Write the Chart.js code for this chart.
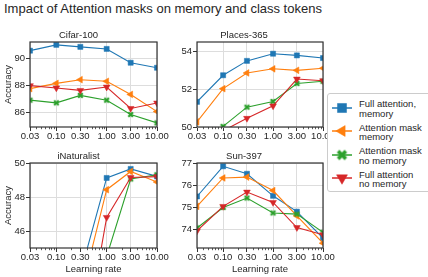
<!DOCTYPE html>
<html>
<head>
<meta charset="utf-8">
<script src="https://cdn.jsdelivr.net/npm/chart.js@4"></script>
<style>
  body { margin: 0; width: 428px; height: 277px; overflow: hidden; background: #fff; position: relative;
         font-family: "Liberation Sans", Arial, sans-serif; color: #262626; }
  canvas.panel { position: absolute; }
  #title { position: absolute; left: 4px; top: 1px; font-size: 13px; line-height: 15px; white-space: nowrap; }
  #legend { position: absolute; left: 327px; top: 93px; width: 110px; height: 99px; box-sizing: border-box;
            border: 1px solid #cccccc; border-radius: 3px; background: #fff; z-index: 2; }
  .lg-icon { position: absolute; z-index: 3; }
  .lg-text { position: absolute; z-index: 3; font-size: 9.5px; line-height: 9.8px; white-space: nowrap; }
</style>
</head>
<body>
<div id="title">Impact of Attention masks on memory and class tokens</div>
<canvas class="panel" id="cifar" width="171" height="121" style="left:0px;top:24px"></canvas>
<canvas class="panel" id="places" width="172" height="121" style="left:165px;top:24px"></canvas>
<canvas class="panel" id="inat" width="171" height="136" style="left:0px;top:141px"></canvas>
<canvas class="panel" id="sun" width="172" height="136" style="left:165px;top:141px"></canvas>
<div id="legend"></div>
<script>
// x axis: learning rates (log scale)
const learningRates = [0.03, 0.1, 0.3, 1, 3, 10];
const xTickLabels = ['0.03', '0.10', '0.30', '1.00', '3.00', '10.00'];
const xMinorTicks = [0.04, 0.05, 0.06, 0.07, 0.08, 0.09, 0.2, 0.4, 0.5, 0.6, 0.7, 0.8, 0.9, 2, 4, 5, 6, 7, 8, 9];

const legendLines = [
  ['Full attention,', 'memory'],
  ['Attention mask', 'memory'],
  ['Attention mask', 'no memory'],
  ['Full attention', 'no memory']
];

// Cifar-100
const cifarFullMem   = [90.56, 90.99, 90.84, 90.69, 89.67, 89.30];
const cifarMaskMem   = [87.76, 88.15, 88.42, 88.30, 87.33, 86.07];
const cifarMaskNoMem = [86.91, 86.71, 87.26, 86.91, 85.85, 85.23];
const cifarFullNoMem = [87.98, 87.81, 87.63, 87.88, 86.30, 86.70];
const cifarYTicks = [86, 88, 90];

// Places-365
const placesFullMem   = [51.33, 52.74, 53.50, 53.88, 53.79, 53.65];
const placesMaskMem   = [50.27, 52.03, 52.86, 53.08, 53.00, 53.11];
const placesMaskNoMem = [49.00, 50.03, 51.05, 51.35, 52.30, 52.42];
const placesFullNoMem = [48.60, 49.80, 50.46, 51.12, 52.54, 52.45];
const placesYTicks = [50, 52, 54];

// iNaturalist
const inatFullMem   = [30.2, 35.8, 43.5, 49.12, 49.65, 49.21];
const inatMaskMem   = [28.5, 34.0, 42.2, 48.43, 49.50, 48.88];
const inatMaskNoMem = [22.0, 29.0, 36.0, 44.50, 49.06, 49.31];
const inatFullNoMem = [25.0, 31.0, 38.0, 46.80, 49.15, 49.20];
const inatYTicks = [46, 48, 50];

// Sun-397
const sunFullMem   = [75.48, 76.85, 76.51, 75.51, 74.79, 73.59];
const sunMaskMem   = [75.03, 76.32, 76.36, 75.75, 74.60, 73.36];
const sunMaskNoMem = [74.05, 74.98, 75.41, 74.73, 74.68, 73.85];
const sunFullNoMem = [73.92, 75.03, 75.68, 75.21, 74.07, 73.74];
const sunYTicks = [74, 75, 76, 77];

const FONT = "'Liberation Sans', Arial, sans-serif";
const TEXT = '#262626';
const colors = ['#1f77b4', '#ff7f0e', '#2ca02c', '#d62728'];

// filled "X" marker like matplotlib's 'X'
function makeCross(size, color) {
  const n = Math.ceil(size) + 2;
  const c = document.createElement('canvas');
  c.width = n; c.height = n;
  const g = c.getContext('2d');
  g.translate(n / 2, n / 2);
  g.rotate(Math.PI / 4);
  const s = size / 6;
  const pts = [[-1,-3],[-1,-1],[-3,-1],[-3,1],[-1,1],[-1,3],[1,3],[1,1],[3,1],[3,-1],[1,-1],[1,-3]];
  g.beginPath();
  pts.forEach(([a, b], i) => i ? g.lineTo(a * s, b * s) : g.moveTo(a * s, b * s));
  g.closePath();
  g.fillStyle = color;
  g.fill();
  return c;
}

const markers = [
  { style: 'rect', rot: 0, r: 3.6 },
  { style: 'triangle', rot: -90, r: 3.9 },
  { style: makeCross(6.5, colors[2]), rot: 0, r: 3.5 },
  { style: 'triangle', rot: 180, r: 3.9 }
];
const legendMarkers = [
  { style: 'rect', rot: 0, r: 6.4 },
  { style: 'triangle', rot: -90, r: 6.3 },
  { style: makeCross(11, colors[2]), rot: 0, r: 6 },
  { style: 'triangle', rot: 180, r: 6.3 }
];

const panels = [
  { id: 'cifar', title: 'Cifar-100', series: [cifarFullMem, cifarMaskMem, cifarMaskNoMem, cifarFullNoMem],
    yTicks: cifarYTicks, yMin: 84.93, yMax: 91.2, yWidth: 30, xHeight: 18, titleTop: 5.6, yTitle: true, xTitle: false },
  { id: 'places', title: 'Places-365', series: [placesFullMem, placesMaskMem, placesMaskNoMem, placesFullNoMem],
    yTicks: placesYTicks, yMin: 50, yMax: 54.5, yWidth: 32, xHeight: 18, titleTop: 5.6, yTitle: false, xTitle: false },
  { id: 'inat', title: 'iNaturalist', series: [inatFullMem, inatMaskMem, inatMaskNoMem, inatFullNoMem],
    yTicks: inatYTicks, yMin: 45, yMax: 50, yWidth: 30, xHeight: 29, titleTop: 9.6, yTitle: true, xTitle: true },
  { id: 'sun', title: 'Sun-397', series: [sunFullMem, sunMaskMem, sunMaskNoMem, sunFullNoMem],
    yTicks: sunYTicks, yMin: 73.14, yMax: 77, yWidth: 32, xHeight: 29, titleTop: 9.6, yTitle: false, xTitle: true }
];

// axes box + minor x ticks
const framePlugin = {
  id: 'frame',
  afterDraw(chart) {
    const { ctx, chartArea: a } = chart;
    const x = chart.scales.x;
    ctx.save();
    ctx.strokeStyle = '#333';
    ctx.lineWidth = 0.8;
    ctx.beginPath();
    xMinorTicks.forEach(v => {
      const px = Math.round(x.getPixelForValue(v)) + 0.5;
      ctx.moveTo(px, a.bottom);
      ctx.lineTo(px, a.bottom + 2.2);
    });
    ctx.stroke();
    ctx.lineWidth = 1.2;
    ctx.strokeRect(a.left, a.top, a.right - a.left, a.bottom - a.top);
    ctx.restore();
  }
};

panels.forEach(p => {
  const datasets = p.series.map((vals, i) => ({
    data: learningRates.map((x, j) => ({ x, y: vals[j] })),
    borderColor: colors[i],
    backgroundColor: colors[i],
    borderWidth: 1.1,
    tension: 0,
    pointStyle: markers[i].style,
    rotation: markers[i].rot,
    pointRadius: markers[i].r,
    pointBorderWidth: 0.5,
    pointBackgroundColor: colors[i],
    pointBorderColor: colors[i],
    order: 3 - i
  }));

  new Chart(document.getElementById(p.id), {
    type: 'line',
    data: { datasets },
    plugins: [framePlugin],
    options: {
      responsive: false,
      animation: false,
      devicePixelRatio: 1,
      layout: { padding: { left: 0, top: 0, right: 14, bottom: 0 } },
      plugins: {
        legend: { display: false },
        tooltip: { enabled: false },
        title: {
          display: true, text: p.title, color: TEXT,
          font: { family: FONT, size: 9.5, weight: 'normal', lineHeight: 1.2 },
          padding: { top: p.titleTop, bottom: 1 }
        }
      },
      scales: {
        x: {
          type: 'logarithmic', min: 0.03, max: 10, offset: false,
          afterBuildTicks: s => { s.ticks = learningRates.map(v => ({ value: v })); },
          afterFit: s => { s.height = p.xHeight; },
          ticks: {
            autoSkip: false, maxRotation: 0, minRotation: 0, padding: 0, color: TEXT,
            font: { family: FONT, size: 9.5, lineHeight: 1.1 },
            callback: (v, i) => xTickLabels[i]
          },
          grid: { color: '#dddddd', lineWidth: 1, drawTicks: true, tickLength: 4, tickColor: '#333', tickWidth: 1 },
          border: { display: false },
          title: {
            display: p.xTitle, text: 'Learning rate', color: TEXT,
            font: { family: FONT, size: 9.5, lineHeight: 1.2 },
            padding: { top: 0, bottom: 2.3 }
          }
        },
        y: {
          min: p.yMin, max: p.yMax,
          afterBuildTicks: s => { s.ticks = p.yTicks.map(v => ({ value: v })); },
          afterFit: s => { s.width = p.yWidth; },
          ticks: {
            padding: 1, color: TEXT,
            font: { family: FONT, size: 9.5, lineHeight: 1.1 },
            callback: v => String(v)
          },
          grid: { color: '#dddddd', lineWidth: 1, drawTicks: true, tickLength: 4, tickColor: '#333', tickWidth: 1 },
          border: { display: false },
          title: {
            display: p.yTitle, text: 'Accuracy', color: TEXT,
            font: { family: FONT, size: 9.5, lineHeight: 1.2 },
            padding: { top: 2.3, bottom: 0 }
          }
        }
      }
    }
  });
});

// legend: icons drawn with Chart.js point helper, labels as text
const legendTop = 107.5;
const legendStep = 23.6;
legendLines.forEach((lines, i) => {
  const cy = legendTop + i * legendStep;
  const icon = document.createElement('canvas');
  icon.className = 'lg-icon';
  icon.width = 24; icon.height = 16;
  icon.style.left = (342 - 12) + 'px';
  icon.style.top = (cy - 8) + 'px';
  const g = icon.getContext('2d');
  g.strokeStyle = colors[i];
  g.fillStyle = colors[i];
  g.lineWidth = 1.5;
  g.beginPath(); g.moveTo(2, 8); g.lineTo(22, 8); g.stroke();
  const m = legendMarkers[i];
  g.lineWidth = 0.5;
  if (Chart.helpers && Chart.helpers.drawPoint) {
    Chart.helpers.drawPoint(g, { pointStyle: m.style, rotation: m.rot, radius: m.r, borderWidth: 0.5 }, 12, 8);
  }
  document.body.appendChild(icon);

  const t = document.createElement('div');
  t.className = 'lg-text';
  t.style.left = '359px';
  t.style.top = (cy - 8.6) + 'px';
  t.innerHTML = lines.join('<br>');
  document.body.appendChild(t);
});
</script>
</body>
</html>
